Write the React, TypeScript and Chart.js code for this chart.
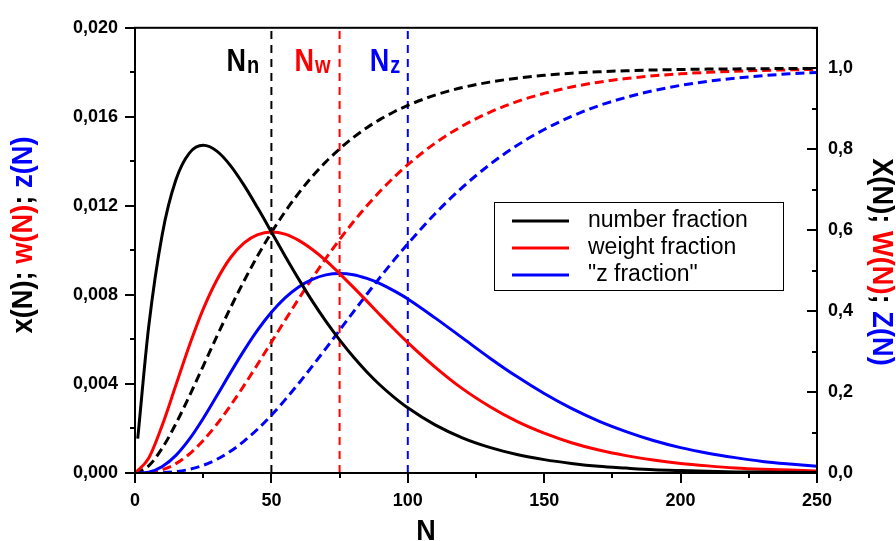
import React, { useEffect, useRef } from 'react';
import { Chart, registerables } from 'chart.js';

Chart.register(...registerables);

// ---- data ----
const N = [0, 5, 10, 15, 20, 25, 30, 35, 40, 45, 50, 55, 60, 65, 70, 75, 80, 85, 90, 95, 100,
  110, 120, 130, 140, 150, 160, 170, 180, 190, 200, 210, 220, 230, 240, 250];
// number fraction curve starts at N = 1
const N_NUMBER = [1, 5, 10, 15, 20, 25, 30, 35, 40, 45, 50, 55, 60, 65, 70, 75, 80, 85, 90, 95, 100,
  110, 120, 130, 140, 150, 160, 170, 180, 190, 200, 210, 220, 230, 240, 250];

const numberFraction = [0.00154, 0.00655, 0.01073, 0.01317, 0.01438, 0.01472, 0.01446, 0.01381, 0.01292, 0.01190,
  0.01083, 0.00975, 0.00871, 0.00772, 0.00681, 0.00598, 0.00522, 0.00454, 0.00393, 0.00340, 0.00293,
  0.00216, 0.00158, 0.00115, 0.00083, 0.00060, 0.00043, 0.00030, 0.00022, 0.00015, 0.00011,
  0.00008, 0.00005, 0.00004, 0.00003, 0.00002];
const weightFraction = [0, 0.00066, 0.00215, 0.00395, 0.00575, 0.00736, 0.00867, 0.00967, 0.01034, 0.01071,
  0.01083, 0.01073, 0.01045, 0.01004, 0.00954, 0.00896, 0.00835, 0.00772, 0.00708, 0.00646, 0.00586,
  0.00476, 0.00379, 0.00299, 0.00232, 0.00179, 0.00136, 0.00103, 0.00078, 0.00058, 0.00043,
  0.00032, 0.00023, 0.00017, 0.00013, 0.00009];
const zFraction = [0, 0.00004, 0.00029, 0.00079, 0.00153, 0.00245, 0.00347, 0.00451, 0.00551, 0.00643,
  0.00722, 0.00787, 0.00836, 0.00870, 0.00890, 0.00896, 0.00891, 0.00874, 0.00850, 0.00818, 0.00782,
  0.00697, 0.00607, 0.00517, 0.00433, 0.00357, 0.00290, 0.00233, 0.00186, 0.00146, 0.00114,
  0.00089, 0.00069, 0.00052, 0.00040, 0.00030];

const cumNumber = [0, 0.0175, 0.0616, 0.1219, 0.1912, 0.2642, 0.3374, 0.4082, 0.4751, 0.5372,
  0.5940, 0.6454, 0.6916, 0.7326, 0.7689, 0.8008, 0.8288, 0.8532, 0.8743, 0.8926, 0.9084,
  0.9337, 0.9523, 0.9658, 0.9756, 0.9826, 0.9877, 0.9913, 0.9939, 0.9957, 0.9970,
  0.9979, 0.9985, 0.9990, 0.9993, 0.9995];
const cumWeight = [0, 0.0012, 0.0079, 0.0231, 0.0474, 0.0803, 0.1205, 0.1665, 0.2166, 0.2694,
  0.3233, 0.3773, 0.4303, 0.4816, 0.5306, 0.5768, 0.6201, 0.6603, 0.6973, 0.7311, 0.7618,
  0.8148, 0.8575, 0.8912, 0.9176, 0.9380, 0.9537, 0.9657, 0.9745, 0.9813, 0.9863,
  0.9900, 0.9927, 0.9947, 0.9962, 0.9972];
const cumZ = [0, 0.0001, 0.0008, 0.0034, 0.0091, 0.0190, 0.0338, 0.0537, 0.0788, 0.1087,
  0.1429, 0.1807, 0.2213, 0.2640, 0.3081, 0.3527, 0.3975, 0.4417, 0.4849, 0.5265, 0.5664,
  0.6405, 0.7058, 0.7618, 0.8093, 0.8487, 0.8812, 0.9075, 0.9280, 0.9447, 0.9577,
  0.9677, 0.9755, 0.9816, 0.9862, 0.9897];

// averages (vertical markers)
const averages = [
  { main: 'N', sub: 'n', value: 50, color: '#000000' },
  { main: 'N', sub: 'w', value: 75, color: '#ff0000' },
  { main: 'N', sub: 'z', value: 100, color: '#0000ff' },
];

const legendItems = [
  { label: 'number fraction', color: '#000000' },
  { label: 'weight fraction', color: '#ff0000' },
  { label: '"z fraction"', color: '#0000ff' },
];

const leftTitle = [
  { t: 'x(N); ', c: '#000000' },
  { t: 'w(N)', c: '#ff0000' },
  { t: '; ', c: '#000000' },
  { t: 'z(N)', c: '#0000ff' },
];
const rightTitle = [
  { t: 'X(N); ', c: '#000000' },
  { t: 'W(N)', c: '#ff0000' },
  { t: '; ', c: '#000000' },
  { t: 'Z(N)', c: '#0000ff' },
];
const xTitle = 'N';

const X_MIN = 0, X_MAX = 250, X_STEP = 50, X_MINOR = 25;
const YL_MAX = 0.02, YL_STEP = 0.004, YL_MINOR = 0.002;
const YR_MAX = 1.1, YR_STEP = 0.2, YR_MINOR = 0.1;

const FONT = '"Liberation Sans", Arial, Helvetica, sans-serif';

const pts = (xs: number[], ys: number[]) => xs.map((x, i) => ({ x, y: ys[i] }));

function drawSegments(ctx: CanvasRenderingContext2D, segs: { t: string; c: string }[], cx: number, cy: number, angle: number) {
  ctx.save();
  ctx.translate(cx, cy);
  ctx.rotate(angle);
  ctx.scale(1.05, 1.12);
  ctx.textBaseline = 'middle';
  ctx.textAlign = 'left';
  const total = segs.reduce((s, g) => s + ctx.measureText(g.t).width, 0);
  let x = -total / 2;
  for (const g of segs) {
    ctx.fillStyle = g.c;
    ctx.fillText(g.t, x, 0);
    x += ctx.measureText(g.t).width;
  }
  ctx.restore();
}

const decorPlugin = {
  id: 'decor',
  afterDraw(chart: any) {
    const { ctx, chartArea: a, scales } = chart;
    const xs = scales.x, yl = scales.y, yr = scales.y2;
    ctx.save();
    // frame
    ctx.strokeStyle = '#000';
    ctx.lineWidth = 2;
    ctx.strokeRect(a.left, a.top, a.right - a.left, a.bottom - a.top);
    // ticks
    ctx.beginPath();
    const nx = Math.round((X_MAX - X_MIN) / X_MINOR);
    for (let i = 0; i <= nx; i++) {
      const v = X_MIN + i * X_MINOR;
      const px = Math.round(xs.getPixelForValue(v));
      const len = i % 2 === 0 ? 10 : 5;
      ctx.moveTo(px, a.bottom);
      ctx.lineTo(px, a.bottom + len);
    }
    const nl = Math.round(YL_MAX / YL_MINOR);
    for (let i = 0; i <= nl; i++) {
      const py = Math.round(yl.getPixelForValue(i * YL_MINOR));
      const len = i % 2 === 0 ? 10 : 5;
      ctx.moveTo(a.left, py);
      ctx.lineTo(a.left - len, py);
    }
    const nr = Math.round(YR_MAX / YR_MINOR);
    for (let i = 0; i <= nr; i++) {
      const py = Math.round(yr.getPixelForValue(i * YR_MINOR));
      const len = i % 2 === 0 ? 10 : 5;
      ctx.moveTo(a.right, py);
      ctx.lineTo(a.right - len, py);
    }
    ctx.stroke();

    // average labels
    for (const av of averages) {
      const px = xs.getPixelForValue(av.value);
      ctx.fillStyle = av.color;
      ctx.textBaseline = 'alphabetic';
      ctx.textAlign = 'left';
      const startX = px - (av.sub === 'z' ? 38 : 45);
      ctx.save();
      ctx.translate(startX, 71);
      ctx.scale(1, 1.15);
      ctx.font = `bold 27px ${FONT}`;
      ctx.fillText(av.main, 0, 0);
      const w = ctx.measureText(av.main).width;
      ctx.font = `bold 20px ${FONT}`;
      ctx.fillText(av.sub, w + 1, 2);
      ctx.restore();
    }

    // legend
    const lx = 494, ly = 202, lw = 289, lh = 88;
    ctx.fillStyle = '#fff';
    ctx.fillRect(lx, ly, lw, lh);
    ctx.strokeStyle = '#000';
    ctx.lineWidth = 1;
    ctx.strokeRect(lx + 0.5, ly + 0.5, lw, lh);
    ctx.font = `23px ${FONT}`;
    ctx.textBaseline = 'middle';
    ctx.textAlign = 'left';
    legendItems.forEach((it, i) => {
      const y = ly + 19 + i * 27;
      ctx.strokeStyle = it.color;
      ctx.lineWidth = 3;
      ctx.beginPath();
      ctx.moveTo(lx + 18, y);
      ctx.lineTo(lx + 75, y);
      ctx.stroke();
      ctx.fillStyle = '#000';
      ctx.fillText(it.label, lx + 94, y);
    });

    // axis titles
    ctx.font = `bold 26px ${FONT}`;
    drawSegments(ctx, leftTitle, 24, 235, -Math.PI / 2);
    drawSegments(ctx, rightTitle, 881, 262, Math.PI / 2);
    ctx.fillStyle = '#000';
    ctx.textAlign = 'center';
    ctx.textBaseline = 'alphabetic';
    ctx.save();
    ctx.translate(426, 540);
    ctx.scale(1, 1.12);
    ctx.font = `bold 27px ${FONT}`;
    ctx.fillText(xTitle, 0, 0);
    ctx.restore();
    ctx.restore();
  },
};

export default function App() {
  const ref = useRef<HTMLCanvasElement>(null);
  useEffect(() => {
    const tickFont = { family: FONT, size: 18, weight: 'bold' as const };
    const solid = (data: any, color: string) => ({
      data, borderColor: color, backgroundColor: color, borderWidth: 3, pointRadius: 0,
      cubicInterpolationMode: 'monotone' as const, yAxisID: 'y', fill: false,
    });
    const dashed = (data: any, color: string) => ({
      data, borderColor: color, backgroundColor: color, borderWidth: 3, pointRadius: 0,
      borderDash: [9, 5], cubicInterpolationMode: 'monotone' as const, yAxisID: 'y2', fill: false,
    });
    const vline = (v: number, color: string) => ({
      data: [{ x: v, y: 0 }, { x: v, y: YL_MAX }], borderColor: color, borderWidth: 2,
      pointRadius: 0, borderDash: [8, 6], yAxisID: 'y', fill: false,
    });
    const chart = new Chart(ref.current!, {
      type: 'line',
      data: {
        datasets: [
          solid(pts(N_NUMBER, numberFraction), '#000000'),
          solid(pts(N, weightFraction), '#ff0000'),
          solid(pts(N, zFraction), '#0000ff'),
          dashed(pts(N, cumNumber), '#000000'),
          dashed(pts(N, cumWeight), '#ff0000'),
          dashed(pts(N, cumZ), '#0000ff'),
          ...averages.map((a) => vline(a.value, a.color)),
        ] as any,
      },
      options: {
        responsive: false,
        animation: false,
        devicePixelRatio: 1,
        layout: { padding: { top: 23, left: 0, right: 0, bottom: 0 } },
        plugins: { legend: { display: false }, tooltip: { enabled: false } },
        scales: {
          x: {
            type: 'linear', position: 'bottom', min: X_MIN, max: X_MAX,
            afterFit: (s: any) => { s.height = 68; },
            grid: { display: false, drawTicks: false }, border: { display: false },
            ticks: { stepSize: X_STEP, padding: 17, font: tickFont, color: '#000', maxRotation: 0 },
          },
          y: {
            type: 'linear', position: 'left', min: 0, max: YL_MAX,
            afterFit: (s: any) => { s.width = 135; },
            grid: { display: false, drawTicks: false }, border: { display: false },
            ticks: { stepSize: YL_STEP, padding: 17, font: tickFont, color: '#000',
              callback: (v: any) => Number(v).toFixed(3).replace('.', ',') },
          },
          y2: {
            type: 'linear', position: 'right', min: 0, max: YR_MAX,
            afterFit: (s: any) => { s.width = 79; },
            grid: { display: false, drawTicks: false }, border: { display: false },
            ticks: { stepSize: YR_STEP, includeBounds: false, padding: 11, font: tickFont, color: '#000',
              callback: (v: any) => Number(v).toFixed(1).replace('.', ',') },
          },
        },
      } as any,
      plugins: [decorPlugin],
    });
    return () => chart.destroy();
  }, []);
  return (
    <div style={{ position: 'absolute', left: 0, top: 0, width: 896, height: 541, background: '#fff' }}>
      <canvas ref={ref} width={896} height={541} style={{ display: 'block', width: 896, height: 541 }} />
    </div>
  );
}
